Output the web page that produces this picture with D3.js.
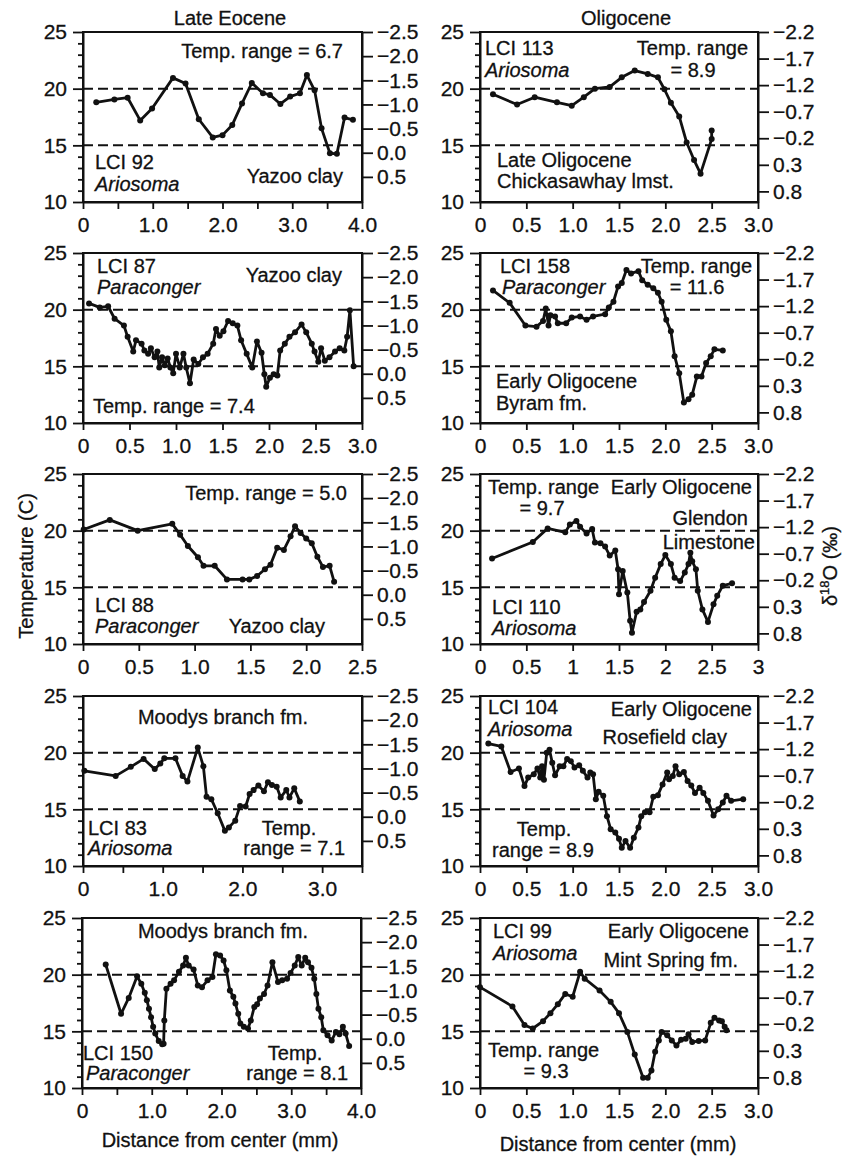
<!DOCTYPE html>
<html>
<head>
<meta charset="utf-8">
<script src="https://cdn.jsdelivr.net/npm/d3@7"></script>
<style>
body { margin: 0; background: #fff; }
text { font-family: "Liberation Sans", Arial, Helvetica, sans-serif; fill: #111; stroke: #111; stroke-width: 0.3; }
</style>
</head>
<body>
<div id="chart"></div>
<script>
// otolith profiles: [distance from center (mm), temperature (C)]
var lci92 = [[0.19,18.8],[0.45,19.05],[0.64,19.2],[0.82,17.2],[0.99,18.25],[1.29,20.95],[1.47,20.45],[1.66,17.3],[1.86,15.7],[2.0,15.9],[2.14,16.8],[2.28,18.7],[2.42,20.5],[2.58,19.6],[2.68,19.45],[2.83,18.65],[2.97,19.3],[3.11,19.6],[3.21,21.2],[3.32,19.85],[3.42,16.5],[3.54,14.3],[3.64,14.25],[3.75,17.45],[3.87,17.25]];
var lci113 = [[0.14,19.5],[0.40,18.6],[0.59,19.25],[0.83,18.8],[0.99,18.5],[1.12,19.25],[1.24,20.0],[1.40,20.15],[1.53,21.0],[1.67,21.6],[1.81,21.3],[1.92,21.0],[1.99,19.95],[2.06,18.75],[2.15,17.55],[2.23,15.25],[2.31,13.7],[2.38,12.5],[2.50,15.55],[2.50,16.3]];
var lci87 = [[0.065,20.55],[0.18,20.2],[0.27,20.3],[0.34,19.2],[0.44,18.6],[0.48,17.6],[0.54,16.3],[0.57,17.3],[0.63,17.0],[0.66,16.4],[0.70,16.1],[0.73,16.6],[0.77,15.8],[0.80,16.3],[0.82,14.9],[0.85,15.8],[0.88,15.1],[0.91,15.7],[0.94,14.9],[0.97,14.4],[1.0,16.1],[1.04,14.9],[1.08,16.1],[1.11,14.9],[1.15,13.5],[1.19,15.6],[1.24,15.2],[1.29,15.8],[1.34,16.1],[1.40,17.0],[1.43,18.3],[1.47,17.7],[1.51,18.1],[1.56,19.0],[1.61,18.8],[1.66,18.6],[1.70,17.3],[1.76,16.1],[1.82,14.9],[1.87,17.2],[1.92,16.2],[1.95,14.3],[1.97,13.2],[2.01,14.0],[2.05,14.3],[2.09,14.2],[2.12,16.4],[2.17,17.0],[2.22,17.6],[2.28,18.0],[2.35,18.7],[2.40,18.0],[2.46,17.0],[2.49,16.3],[2.53,15.4],[2.56,16.6],[2.60,15.5],[2.65,15.8],[2.71,16.3],[2.76,16.6],[2.81,16.4],[2.84,17.6],[2.87,19.95],[2.91,15.0]];
var lci158 = [[0.14,21.7],[0.32,20.6],[0.49,18.6],[0.61,18.5],[0.68,19.0],[0.71,20.1],[0.74,18.6],[0.76,19.5],[0.81,19.4],[0.84,18.8],[0.93,18.8],[0.99,19.3],[1.08,19.4],[1.15,19.1],[1.22,19.4],[1.35,19.6],[1.39,20.2],[1.44,20.7],[1.49,22.05],[1.53,22.35],[1.58,23.5],[1.63,23.2],[1.71,23.4],[1.75,22.6],[1.81,22.2],[1.87,21.9],[1.92,21.5],[1.96,20.7],[2.01,19.1],[2.06,18.1],[2.10,15.9],[2.15,14.4],[2.20,11.8],[2.25,12.1],[2.29,12.5],[2.34,14.1],[2.39,14.1],[2.44,15.3],[2.49,15.9],[2.53,16.5],[2.62,16.4]];
var lci88 = [[0.006,20.1],[0.24,20.95],[0.49,20.0],[0.80,20.6],[0.87,19.65],[0.94,18.65],[1.03,17.65],[1.08,16.9],[1.18,16.9],[1.29,15.7],[1.43,15.7],[1.49,15.7],[1.56,16.0],[1.63,16.6],[1.68,17.0],[1.74,18.5],[1.80,18.3],[1.86,19.5],[1.90,20.4],[1.95,19.8],[2.0,19.3],[2.05,18.9],[2.10,17.7],[2.15,16.8],[2.21,16.9],[2.25,15.5]];
var lci110 = [[0.13,17.55],[0.57,19.0],[0.73,20.2],[0.92,19.85],[0.97,20.55],[1.04,20.85],[1.08,20.35],[1.15,19.75],[1.21,20.15],[1.24,18.95],[1.30,18.9],[1.35,18.6],[1.40,17.8],[1.46,18.25],[1.49,16.6],[1.50,14.4],[1.54,16.45],[1.59,14.55],[1.62,12.05],[1.64,11.0],[1.69,12.85],[1.73,13.05],[1.77,13.7],[1.84,14.7],[1.89,15.85],[1.95,17.05],[2.0,17.85],[2.06,17.05],[2.10,15.85],[2.16,15.55],[2.21,16.3],[2.25,17.05],[2.27,18.05],[2.29,17.3],[2.33,16.6],[2.35,14.7],[2.40,13.05],[2.46,11.95],[2.52,13.5],[2.56,14.25],[2.62,15.15],[2.72,15.35]];
var lci83 = [[0.017,18.4],[0.41,17.95],[0.60,18.75],[0.76,19.45],[0.90,18.55],[0.97,19.05],[1.02,19.5],[1.16,19.5],[1.25,17.95],[1.31,17.45],[1.44,20.45],[1.51,18.8],[1.55,16.1],[1.61,15.9],[1.69,14.65],[1.78,13.1],[1.83,13.4],[1.91,14.0],[1.97,15.3],[2.04,15.25],[2.09,16.35],[2.14,16.7],[2.20,17.1],[2.27,16.6],[2.32,17.4],[2.37,17.15],[2.43,17.0],[2.48,16.05],[2.55,16.7],[2.59,16.05],[2.65,16.85],[2.72,15.7]];
var lci104 = [[0.09,20.8],[0.23,20.55],[0.33,18.3],[0.42,18.6],[0.48,17.05],[0.52,17.8],[0.58,18.1],[0.62,18.6],[0.65,17.8],[0.67,18.8],[0.69,17.6],[0.72,20.0],[0.75,20.25],[0.78,19.1],[0.81,18.0],[0.86,18.8],[0.90,18.8],[0.94,19.45],[0.98,19.25],[1.02,18.7],[1.07,18.9],[1.11,18.4],[1.16,17.8],[1.19,18.25],[1.22,18.1],[1.25,15.9],[1.28,16.55],[1.33,16.2],[1.37,14.4],[1.41,13.25],[1.46,12.95],[1.50,12.4],[1.53,11.6],[1.57,12.2],[1.62,11.6],[1.66,12.5],[1.71,13.4],[1.74,14.4],[1.78,14.75],[1.83,14.75],[1.87,16.1],[1.92,16.25],[1.97,17.2],[2.02,18.25],[2.04,17.65],[2.08,17.95],[2.11,18.8],[2.15,18.1],[2.20,18.3],[2.24,17.5],[2.28,17.1],[2.32,16.45],[2.37,16.9],[2.41,16.45],[2.46,15.75],[2.52,14.45],[2.57,15.0],[2.62,15.6],[2.66,16.2],[2.71,15.75],[2.84,15.9]];
var lci150 = [[0.34,20.9],[0.56,16.55],[0.67,17.95],[0.79,19.85],[0.85,19.2],[0.90,18.4],[0.93,17.75],[0.96,17.0],[0.99,16.25],[1.02,15.4],[1.05,14.8],[1.10,14.15],[1.15,13.85],[1.17,13.9],[1.18,15.95],[1.21,18.75],[1.27,19.2],[1.32,19.5],[1.39,20.25],[1.45,20.8],[1.49,21.5],[1.53,20.8],[1.60,20.45],[1.66,19.05],[1.72,18.9],[1.80,19.5],[1.87,19.8],[1.92,21.8],[1.98,21.7],[2.03,21.25],[2.07,20.4],[2.12,18.6],[2.17,18.05],[2.20,17.45],[2.24,16.55],[2.27,15.7],[2.32,15.4],[2.38,15.25],[2.42,15.95],[2.47,17.15],[2.51,17.4],[2.55,17.9],[2.61,18.3],[2.66,19.05],[2.73,21.1],[2.81,19.35],[2.87,19.5],[2.94,19.65],[2.99,20.15],[3.05,20.8],[3.10,21.55],[3.15,20.8],[3.20,21.5],[3.24,21.1],[3.29,20.6],[3.33,19.65],[3.36,18.3],[3.39,17.0],[3.43,16.25],[3.46,15.1],[3.52,14.65],[3.58,14.2],[3.64,14.95],[3.69,14.75],[3.74,15.4],[3.78,14.8],[3.83,13.7]];
var lci99 = [[0.0,18.9],[0.35,17.2],[0.48,15.55],[0.57,15.25],[0.68,15.9],[0.76,16.6],[0.84,17.4],[0.92,18.3],[1.0,18.05],[1.08,20.25],[1.13,19.65],[1.29,18.6],[1.41,17.6],[1.50,16.6],[1.59,14.95],[1.67,12.95],[1.76,10.9],[1.81,10.9],[1.85,11.55],[1.89,13.2],[1.93,14.2],[1.96,14.95],[2.02,14.65],[2.07,14.2],[2.12,13.75],[2.17,14.25],[2.22,14.35],[2.25,14.75],[2.29,14.05],[2.36,14.15],[2.43,14.2],[2.49,15.75],[2.53,16.2],[2.58,15.95],[2.61,15.9],[2.64,15.4],[2.66,15.1]];

// right axis (delta 18O) tick labels
var eoceneD18O = [-2.5, -2.0, -1.5, -1.0, -0.5, 0.0, 0.5];
var oligoD18O = [-2.2, -1.7, -1.2, -0.7, -0.2, 0.3, 0.8];
var tempTicks = d3.range(10, 26);
var refTemps = [15, 20];
var columnTitles = ["Late Eocene", "Oligocene"];

var colLeft = [83, 480], colWidth = [279, 278];
var rowTop = [32, 253, 474, 696, 918], plotH = 170;

function fmtDec(d) { return d === 0 ? "0" : d.toFixed(1); }
function fmtG(d) { return d3.format("~g")(d); }

var panels = [
	{ data: lci92, col: 0, row: 0, xMax: 4.0, labelEvery: 1, fmt: fmtDec, notes: [
		["Temp. range = 6.7", 260, 26, "end"], ["LCI 92", 12, 137, "start"],
		["Ariosoma", 12, 159, "start", true], ["Yazoo clay", 260, 151, "end"]] },
	{ data: lci113, col: 1, row: 0, xMax: 3.0, labelEvery: 0.5, fmt: fmtDec, notes: [
		["LCI 113", 5, 23, "start"], ["Ariosoma", 5, 45, "start", true],
		["Temp. range", 268, 23, "end"], ["= 8.9", 213, 45, "middle"],
		["Late Oligocene", 17, 135, "start"], ["Chickasawhay lmst.", 17, 156, "start"]] },
	{ data: lci87, col: 0, row: 1, xMax: 3.0, labelEvery: 0.5, fmt: fmtDec, notes: [
		["LCI 87", 14, 20, "start"], ["Paraconger", 14, 41, "start", true],
		["Yazoo clay", 259, 29, "end"], ["Temp. range = 7.4", 10, 160, "start"]] },
	{ data: lci158, col: 1, row: 1, xMax: 3.0, labelEvery: 0.5, fmt: fmtDec, notes: [
		["LCI 158", 20, 20, "start"], ["Paraconger", 22, 41, "start", true],
		["Temp. range", 272, 20, "end"], ["= 11.6", 217, 41, "middle"],
		["Early Oligocene", 16, 135, "start"], ["Byram fm.", 16, 157, "start"]] },
	{ data: lci88, col: 0, row: 2, xMax: 2.5, labelEvery: 0.5, fmt: fmtDec, notes: [
		["Temp. range = 5.0", 264, 26, "end"], ["LCI 88", 12, 138, "start"],
		["Paraconger", 12, 159, "start", true], ["Yazoo clay", 242, 159, "end"]] },
	{ data: lci110, col: 1, row: 2, xMax: 3.0, labelEvery: 0.5, fmt: fmtG, notes: [
		["Temp. range", 8, 20, "start"], ["= 9.7", 62, 41, "middle"],
		["Early Oligocene", 272, 20, "end"], ["Glendon", 268, 51, "end"],
		["Limestone", 275, 75, "end"], ["LCI 110", 12, 140, "start"],
		["Ariosoma", 12, 161, "start", true]] },
	{ data: lci83, col: 0, row: 3, xMax: 3.5, labelEvery: 1, fmt: fmtDec, notes: [
		["Moodys branch fm.", 140, 28, "middle"], ["LCI 83", 5, 139, "start"],
		["Ariosoma", 5, 159, "start", true], ["Temp.", 206, 139, "middle"],
		["range = 7.1", 262, 159, "end"]] },
	{ data: lci104, col: 1, row: 3, xMax: 3.0, labelEvery: 0.5, fmt: fmtDec, notes: [
		["LCI 104", 8, 18, "start"], ["Ariosoma", 8, 40, "start", true],
		["Early Oligocene", 272, 20, "end"], ["Rosefield clay", 247, 48, "end"],
		["Temp.", 64, 140, "middle"], ["range = 8.9", 12, 161, "start"]] },
	{ data: lci150, col: 0, row: 4, xMax: 4.0, labelEvery: 1, fmt: fmtDec, notes: [
		["Moodys branch fm.", 141, 20, "middle"], ["LCI 150", 1, 142, "start"],
		["Paraconger", 4, 162, "start", true], ["Temp.", 213, 142, "middle"],
		["range = 8.1", 266, 162, "end"]] },
	{ data: lci99, col: 1, row: 4, xMax: 3.0, labelEvery: 0.5, fmt: fmtDec, notes: [
		["LCI 99", 13, 20, "start"], ["Ariosoma", 13, 42, "start", true],
		["Early Oligocene", 269, 20, "end"], ["Mint Spring fm.", 258, 49, "end"],
		["Temp. range", 8, 139, "start"], ["= 9.3", 66, 160, "middle"]] }
];

var svg = d3.select("#chart").append("svg")
	.attr("width", 844)
	.attr("height", 1159);

panels.forEach(function (p) {
	var w = colWidth[p.col];
	var left = colLeft[p.col] - (p.row === 4 && p.col === 0 ? 1 : 0);
	var g = svg.append("g")
		.attr("transform", "translate(" + left + "," + rowTop[p.row] + ")");

	var x = d3.scaleLinear().domain([0, p.xMax]).range([0, w]);
	var y = d3.scaleLinear().domain([10, 25]).range([plotH, 0]);
	var dTicks = p.col === 0 ? eoceneD18O : oligoD18O;
	var d = d3.scaleLinear()
		.domain(p.col === 0 ? [-2.5, 1.02] : [-2.2, 1.0])
		.range([0, plotH]);

	// frame
	g.append("rect")
		.attr("width", w)
		.attr("height", plotH)
		.attr("fill", "none")
		.attr("stroke", "#111")
		.attr("stroke-width", 2);

	// reference dashes
	g.selectAll(".ref")
		.data(refTemps)
		.enter().append("line")
		.attr("x1", 0).attr("x2", w)
		.attr("y1", function (t) { return y(t); })
		.attr("y2", function (t) { return y(t); })
		.attr("stroke", "#111")
		.attr("stroke-width", 2)
		.attr("stroke-dasharray", "10,5");

	// x axis
	var xa = g.append("g")
		.attr("transform", "translate(0," + plotH + ")")
		.call(d3.axisBottom(x)
			.tickValues(d3.range(0, p.xMax + 0.001, 0.5))
			.tickSize(7)
			.tickSizeOuter(0)
			.tickPadding(8)
			.tickFormat(function (v) {
				var k = Math.round(v / p.labelEvery * 1000) / 1000;
				return k === Math.round(k) ? p.fmt(v) : "";
			}));

	// temperature axis
	var ya = g.append("g")
		.call(d3.axisLeft(y)
			.tickValues(tempTicks)
			.tickSize(10)
			.tickSizeOuter(0)
			.tickPadding(6)
			.tickFormat(function (v) { return v % 5 === 0 ? v : ""; }));
	ya.selectAll(".tick line")
		.attr("x2", function (v) { return v % 5 === 0 ? -10 : -5; });

	// d18O axis
	var da = g.append("g")
		.attr("transform", "translate(" + w + ",0)")
		.call(d3.axisRight(d)
			.tickValues(dTicks)
			.tickSize(11)
			.tickSizeOuter(0)
			.tickPadding(4)
			.tickFormat(d3.format(".1f")));

	[xa, ya, da].forEach(function (a) {
		a.selectAll("path").attr("stroke", "#111").attr("stroke-width", 2);
		a.selectAll("line").attr("stroke", "#111").attr("stroke-width", 1.8);
		a.selectAll("text").attr("font-size", 21).attr("fill", "#111")
			.style("font-family", "'Liberation Sans', Arial, sans-serif");
	});

	// profile
	var line = d3.line()
		.x(function (v) { return x(v[0]); })
		.y(function (v) { return y(v[1]); });

	g.append("path")
		.datum(p.data)
		.attr("d", line)
		.attr("fill", "none")
		.attr("stroke", "#111")
		.attr("stroke-width", 2.8)
		.attr("stroke-linejoin", "round");

	g.selectAll(".dot")
		.data(p.data)
		.enter().append("circle")
		.attr("cx", function (v) { return x(v[0]); })
		.attr("cy", function (v) { return y(v[1]); })
		.attr("r", 3)
		.attr("fill", "#111");

	// annotations
	g.selectAll(".note")
		.data(p.notes)
		.enter().append("text")
		.attr("x", function (n) { return n[1]; })
		.attr("y", function (n) { return n[2]; })
		.attr("text-anchor", function (n) { return n[3]; })
		.attr("font-size", 20)
		.style("font-style", function (n) { return n[4] ? "italic" : "normal"; })
		.text(function (n) { return n[0]; });
});

// column titles
svg.selectAll(".title")
	.data(columnTitles)
	.enter().append("text")
	.attr("x", function (t, i) { return i === 0 ? 230 : 626; })
	.attr("y", 25)
	.attr("text-anchor", "middle")
	.attr("font-size", 20)
	.text(function (t) { return t; });

// axis titles
svg.append("text")
	.attr("transform", "translate(33,566) rotate(-90)")
	.attr("text-anchor", "middle")
	.attr("font-size", 20)
	.text("Temperature (C)");

var dl = svg.append("text")
	.attr("transform", "translate(837,566) rotate(-90)")
	.attr("text-anchor", "middle")
	.attr("font-size", 20);
dl.append("tspan").text("\u03b4");
dl.append("tspan").attr("font-size", 13).attr("dy", -8).text("18");
dl.append("tspan").attr("dy", 8).text("O (\u2030)");

svg.append("text")
	.attr("x", 220).attr("y", 1147)
	.attr("text-anchor", "middle")
	.attr("font-size", 20)
	.text("Distance from center (mm)");

svg.append("text")
	.attr("x", 618).attr("y", 1151)
	.attr("text-anchor", "middle")
	.attr("font-size", 20)
	.text("Distance from center (mm)");
</script>
</body>
</html>
